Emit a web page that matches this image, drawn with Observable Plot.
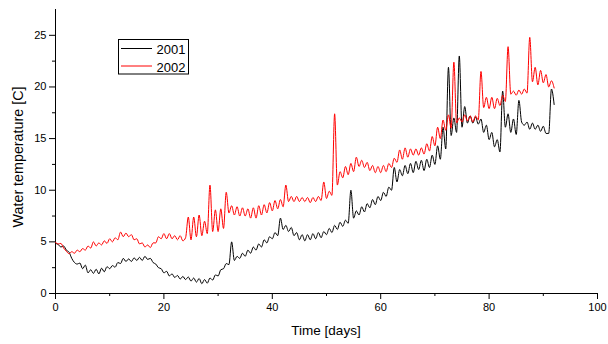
<!DOCTYPE html>
<html>
<head>
<meta charset="utf-8">
<script src="https://cdn.jsdelivr.net/npm/d3@7"></script>
<script src="https://cdn.jsdelivr.net/npm/@observablehq/plot@0.6"></script>
<style>
  body { margin: 0; background: #fff; }
  #chart { position: relative; width: 608px; height: 344px; font-family: "Liberation Sans", Arial, sans-serif; }
  #legend { position: absolute; left: 0; top: 0; pointer-events: none; }
</style>
</head>
<body>
<div id="chart"></div>
<script>
// Series names and their line colours
const years = ["2001", "2002"];
const colors = ["#000000", "#ff0000"];

// Water temperature readings, one every half day starting at day 0
const step = 0.5;

const temp2001 = [
  4.85, 4.75, 4.5, 4.6, 4.2, 4.0, 3.4, 3.0, 2.85, 2.95,
  2.4, 2.75, 2.0, 2.3, 1.95, 2.35, 1.9, 2.45, 2.1, 2.6,
  2.4, 2.7, 2.55, 3.0, 2.9, 3.4, 3.1, 3.35, 3.1, 3.45,
  3.2, 3.5, 3.2, 3.6, 3.3, 3.4, 3.0, 2.85, 2.5, 2.4,
  2.0, 2.15, 1.7, 1.9, 1.55, 1.75, 1.4, 1.65, 1.35, 1.6,
  1.2, 1.5, 1.1, 1.45, 0.95, 1.35, 1.0, 1.5, 1.3, 1.8,
  1.7, 2.3, 2.4, 2.9, 2.8, 5.0, 3.2, 3.6, 3.4, 3.9,
  3.6, 4.2, 3.9, 4.5, 4.2, 4.8, 4.5, 5.2, 4.9, 5.5,
  5.3, 5.9, 5.6, 7.3, 6.2, 6.6, 6.0, 6.4, 5.6, 5.9,
  5.2, 5.7, 5.1, 5.7, 5.2, 5.8, 5.3, 5.9, 5.4, 6.0,
  5.7, 6.3, 5.9, 6.6, 6.2, 6.9, 6.5, 7.1, 6.8, 10.0,
  7.3, 8.0, 7.6, 8.4, 7.9, 8.7, 8.3, 9.1, 8.6, 9.4,
  9.0, 9.8, 9.4, 10.3, 10.0, 12.2, 10.8, 12.0, 11.4, 12.4,
  11.6, 12.6, 11.7, 12.8, 12.0, 12.9, 11.9, 13.0, 12.2, 13.4,
  12.5, 14.3, 13.0, 16.1, 14.0, 21.9, 15.3, 17.0, 15.6, 23.0,
  16.1, 18.1, 16.5, 17.2, 16.5, 17.1, 16.4, 16.9, 15.6, 16.3,
  14.9, 15.6, 14.2, 14.9, 13.7, 19.6, 16.1, 17.4, 15.6, 16.9,
  15.4, 18.7, 16.6, 16.3, 16.6, 15.9, 16.5, 15.9, 16.3, 15.7,
  16.2, 15.5, 15.5, 19.8, 18.3
];

const temp2002 = [
  4.95, 4.8, 4.85, 4.4, 4.1, 3.85, 4.05, 3.9, 4.2, 4.05,
  4.35, 4.2, 4.6, 4.4, 5.0, 4.6, 4.9, 4.7, 5.1, 4.85,
  5.3, 5.0, 5.4, 5.2, 5.95, 5.5, 5.85, 5.5, 5.7, 5.2,
  5.3, 4.8, 4.9, 4.5, 4.7, 4.45, 4.9, 4.9, 5.5, 5.3,
  5.8, 5.3, 5.8, 5.3, 5.6, 5.2, 5.6, 5.1, 5.4, 7.4,
  5.2, 7.4, 5.5, 7.6, 5.6, 7.0, 5.8, 10.5, 6.0, 8.1,
  6.0, 8.2, 6.3, 9.8, 7.8, 8.5, 7.6, 8.4, 7.5, 8.3,
  7.5, 8.2, 7.3, 8.3, 7.3, 8.5, 7.6, 8.6, 7.8, 8.8,
  8.0, 9.0, 8.2, 9.1, 8.4, 10.5, 8.9, 9.4, 8.9, 9.4,
  8.9, 9.3, 8.9, 9.3, 8.8, 9.3, 8.9, 9.4, 9.0, 10.8,
  9.2, 9.9, 9.5, 17.4, 10.5, 11.8, 11.2, 12.3, 11.5, 12.6,
  11.8, 13.2, 12.3, 12.9, 12.2, 12.7, 11.9, 12.4, 11.7, 12.3,
  11.7, 12.4, 11.8, 12.6, 12.2, 13.1, 12.7, 13.9, 13.0, 14.1,
  13.2, 14.0, 13.4, 14.0, 13.4, 14.1, 13.5, 14.5, 13.8, 15.2,
  14.3, 16.1, 15.0, 16.8, 15.8, 17.3, 16.0, 22.4, 16.5, 17.0,
  16.6, 17.3, 16.7, 17.2, 16.6, 17.2, 16.8, 21.5, 18.0, 19.0,
  17.9, 19.0, 17.9, 18.9, 18.2, 19.2, 18.6, 23.9, 19.3, 19.6,
  19.2, 19.7, 19.3, 19.8, 19.4, 24.8, 20.5, 21.9, 20.2, 21.6,
  20.4, 21.2, 20.0, 20.6, 19.9
];

// Axis ticks
const xMajor = [0, 20, 40, 60, 80, 100];
const xMinor = [10, 30, 50, 70, 90];
const yMajor = [0, 5, 10, 15, 20, 25];
const yMinor = [2.5, 7.5, 12.5, 17.5, 22.5];

const xTitle = "Time [days]";
const yTitle = "Water temperature [C]";

// Long-format table for the line mark
const rows = [
  ...temp2001.map((t, i) => ({ day: i * step, temp: t, year: years[0] })),
  ...temp2002.map((t, i) => ({ day: i * step, temp: t, year: years[1] }))
];

const font = '"Liberation Sans", Arial, sans-serif';

const plot = Plot.plot({
  width: 608,
  height: 344,
  marginLeft: 55,
  marginRight: 11,
  marginTop: 9,
  marginBottom: 51,
  style: { fontFamily: font, fontSize: "11px", color: "#000", background: "#fff", overflow: "visible" },
  x: { domain: [0, 100] },
  y: { domain: [0, 27.5] },
  color: { domain: years, range: colors },
  marks: [
    Plot.axisX(xMinor, { tickSize: 3, tickFormat: () => "", label: null }),
    Plot.axisX(xMajor, { tickSize: 6, tickPadding: 4, label: null }),
    Plot.axisY(yMinor, { tickSize: 3, tickFormat: () => "", label: null }),
    Plot.axisY(yMajor, { tickSize: 6, tickPadding: 3, label: null }),
    Plot.ruleY([0]),
    Plot.ruleX([0]),
    Plot.line(rows, { x: "day", y: "temp", z: "year", stroke: "year", strokeWidth: 1, curve: "monotone-x" })
  ]
});

// Axis titles
const svg = d3.select(plot);
svg.append("text")
  .attr("x", 326).attr("y", 335)
  .attr("text-anchor", "middle")
  .attr("font-size", 13.5)
  .attr("font-family", font)
  .attr("fill", "#000")
  .text(xTitle);
svg.append("text")
  .attr("transform", "translate(23,157) rotate(-90)")
  .attr("text-anchor", "middle")
  .attr("font-size", 14.3)
  .attr("font-family", font)
  .attr("fill", "#000")
  .text(yTitle);

const chart = document.getElementById("chart");
chart.appendChild(plot);

// Boxed legend in the upper left of the plot area
const legend = d3.select(chart).append("svg")
  .attr("id", "legend")
  .attr("width", 608).attr("height", 344);
legend.append("rect")
  .attr("x", 118.5).attr("y", 39.5)
  .attr("width", 70).attr("height", 34.5)
  .attr("fill", "#fff").attr("stroke", "#000").attr("stroke-width", 1);
years.forEach((yr, i) => {
  const cy = 48.5 + i * 17.5;
  legend.append("line")
    .attr("x1", 121).attr("x2", 152)
    .attr("y1", cy).attr("y2", cy)
    .attr("stroke", colors[i]).attr("stroke-width", 1);
  legend.append("text")
    .attr("x", 156.5).attr("y", cy + 5.5)
    .attr("font-size", 13)
    .attr("font-family", font)
    .attr("fill", "#000")
    .text(yr);
});
</script>
</body>
</html>
